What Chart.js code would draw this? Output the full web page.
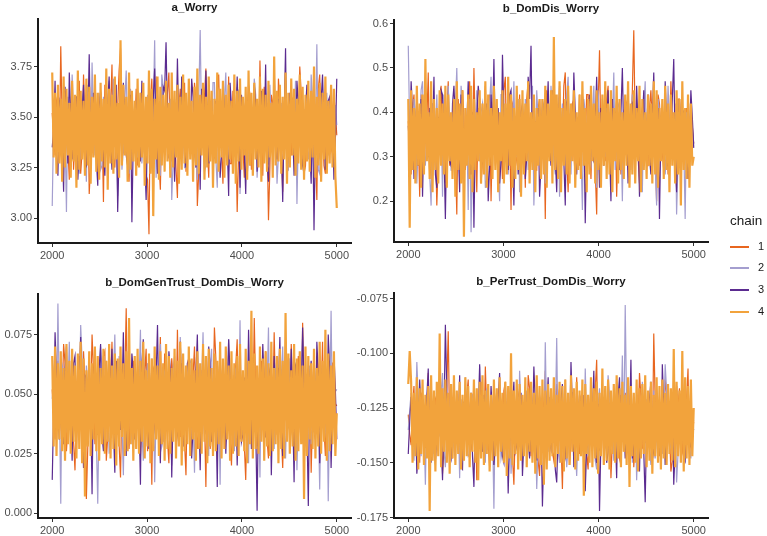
<!DOCTYPE html>
<html>
<head>
<meta charset="utf-8">
<script src="https://cdn.jsdelivr.net/npm/chart.js@4.4.0/dist/chart.umd.min.js"></script>
<style>
  body { margin: 0; background: #fff; font-family: "Liberation Sans", Arial, sans-serif; }
  #wrap { position: relative; width: 767px; height: 536px; overflow: hidden; }
  .panel { position: absolute; }
  .ptitle { position: absolute; font-weight: bold; font-size: 11.5px; color: #1a1a1a; white-space: nowrap; transform: translateX(-50%); }
  .ltitle { position: absolute; left: 730px; top: 213px; font-size: 13.5px; color: #1a1a1a; }
  .lkey { position: absolute; left: 730px; width: 19px; height: 2px; }
  .llab { position: absolute; left: 758px; font-size: 11px; color: #1a1a1a; }
</style>
</head>
<body>
<div id="wrap"></div>
<script>
// stored draws after warmup, one every 15 iterations (2000 ... 5000).
// chains 1-3: "xxx" arrays hold 2000, 2030, ... and "xxxMid" the draws in between.
// chain 4 (drawn on top) is kept as one full array.
const iterStart = 2000;
const iterStep = 15;
const iterTicks = [2000, 3000, 4000, 5000];

const chainNames = ['1', '2', '3', '4'];
const chainColors = ['#e8661f', '#a49ecf', '#5b2b90', '#f2a33c'];
// chain 4 sits on top and has to fill the band like the dense original
const chainWidths = [1.2, 1.2, 1.2, 2.2];

// a_Worry
const worryTicks = [3.00, 3.25, 3.50, 3.75];
const worry1 = [3.52,3.31,3.61,3.85,3.27,3.48,3.19,3.66,3.40,3.57, 3.22,3.71,3.36,3.12,3.58,3.44,3.29,3.63,3.08,3.50,
  3.39,3.76,3.25,3.55,3.84,3.33,3.47,3.18,3.62,3.41, 3.26,3.37,3.58,3.21,2.92,3.69,3.45,3.60,3.14,3.53,
  3.35,3.72,3.28,3.49,3.10,3.64,3.43,3.23,3.57,3.32, 3.67,3.06,3.46,3.38,3.74,3.20,3.51,3.30,3.62,3.42,
  3.17,3.55,3.70,3.27,3.48,3.03,3.59,3.36,3.44,3.66, 3.24,3.52,3.34,3.78,3.21,3.47,2.99,3.61,3.39,3.28,
  3.56,3.13,3.68,3.43,3.31,3.58,3.19,3.75,3.40,3.26, 3.63,3.35,3.50,3.09,3.71,3.45,3.22,3.57,3.33,3.60, 3.41];
const worry1Mid = [3.40,3.58,3.29,3.47,3.63,3.35,3.52,3.24,3.45,3.68, 3.33,3.50,3.61,3.27,3.42,3.56,3.21,3.48,3.66,3.38,
  3.54,3.30,3.44,3.73,3.36,3.59,3.26,3.49,3.41,3.64, 3.32,3.53,3.46,3.19,3.57,3.39,3.70,3.28,3.51,3.43,
  3.62,3.34,3.47,3.25,3.55,3.37,3.67,3.31,3.50,3.42, 3.58,3.23,3.45,3.60,3.36,3.52,3.29,3.48,3.71,3.35,
  3.54,3.40,3.27,3.63,3.44,3.33,3.56,3.20,3.49,3.61, 3.38,3.53,3.30,3.46,3.65,3.41,3.25,3.57,3.43,3.69,
  3.34,3.51,3.28,3.47,3.59,3.36,3.44,3.62,3.22,3.50, 3.39,3.55,3.31,3.64,3.42,3.26,3.58,3.45,3.35,3.53];
const worry2 = [3.06,3.58,3.34,3.49,3.66,3.03,3.42,3.71,3.29,3.54, 3.37,3.63,3.18,3.47,3.77,3.31,3.55,3.24,3.60,3.40,
  3.68,3.27,3.45,3.11,3.57,3.35,3.73,3.22,3.50,3.43, 3.30,3.62,3.39,3.16,3.54,3.28,3.88,3.46,3.21,3.65,
  3.36,3.52,3.09,3.59,3.44,3.32,3.70,3.25,3.48,3.38, 3.61,3.19,3.93,3.41,3.26,3.56,3.34,3.67,3.15,3.49,
  3.43,3.72,3.23,3.53,3.36,3.64,3.12,3.47,3.58,3.30, 3.40,3.69,3.20,3.55,3.33,3.62,3.27,3.45,3.74,3.17,
  3.51,3.38,3.66,3.24,3.57,3.42,3.07,3.60,3.35,3.48, 3.29,3.71,3.39,3.86,3.22,3.54,3.44,3.31,3.63,3.37, 3.46];
const worry2Mid = [3.47,3.36,3.55,3.28,3.43,3.60,3.32,3.51,3.44,3.22, 3.57,3.39,3.66,3.30,3.49,3.41,3.62,3.26,3.53,3.35,
  3.45,3.69,3.33,3.50,3.24,3.58,3.40,3.64,3.31,3.48, 3.55,3.27,3.42,3.61,3.37,3.52,3.20,3.46,3.71,3.34,
  3.43,3.59,3.29,3.50,3.38,3.65,3.25,3.54,3.41,3.47, 3.32,3.60,3.44,3.23,3.56,3.39,3.67,3.30,3.49,3.42,
  3.58,3.35,3.51,3.27,3.45,3.63,3.37,3.53,3.21,3.48, 3.40,3.61,3.33,3.55,3.44,3.28,3.66,3.38,3.50,3.31,
  3.57,3.43,3.25,3.52,3.36,3.68,3.41,3.29,3.54,3.46, 3.34,3.59,3.42,3.24,3.51,3.37,3.62,3.47,3.30,3.56];
const worry3 = [3.35,3.68,3.21,3.55,3.13,3.47,3.72,3.29,3.60,3.19, 3.43,3.66,3.26,3.81,3.38,3.52,3.16,3.62,3.33,3.49,
  3.70,3.24,3.57,3.03,3.45,3.67,3.31,3.54,2.98,3.41, 3.63,3.28,3.50,3.09,3.58,3.36,3.74,3.22,3.46,3.65,
  3.87,3.30,3.53,3.18,3.79,3.40,3.61,3.25,3.48,3.69, 3.34,3.56,3.14,3.44,3.73,3.27,3.59,3.37,3.51,3.20,
  3.64,3.42,3.11,3.55,3.32,3.70,3.15,3.47,3.12,3.60, 3.39,3.66,3.23,3.52,3.35,3.76,3.18,3.49,3.62,3.29,
  3.45,3.08,3.84,3.33,3.57,3.21,3.68,3.40,3.26,3.53, 3.61,3.17,2.94,3.48,3.36,3.71,3.24,3.58,3.43,3.19, 3.69];
const worry3Mid = [3.44,3.31,3.58,3.38,3.65,3.27,3.50,3.42,3.60,3.34, 3.53,3.24,3.47,3.36,3.62,3.29,3.55,3.41,3.21,3.57,
  3.38,3.49,3.66,3.32,3.52,3.44,3.26,3.61,3.40,3.54, 3.35,3.68,3.30,3.46,3.23,3.59,3.43,3.51,3.33,3.63,
  3.48,3.28,3.56,3.39,3.45,3.70,3.31,3.53,3.37,3.60, 3.25,3.47,3.64,3.35,3.50,3.41,3.22,3.58,3.44,3.32,
  3.55,3.38,3.67,3.29,3.49,3.42,3.61,3.34,3.52,3.26, 3.46,3.57,3.36,3.63,3.40,3.28,3.54,3.45,3.33,3.59,
  3.39,3.50,3.24,3.62,3.43,3.35,3.56,3.30,3.48,3.66, 3.37,3.53,3.41,3.27,3.58,3.44,3.32,3.60,3.46,3.38];
const worry4 = [3.72,3.30,3.62,3.22,3.66,3.27,3.59,3.18,3.70,3.25, 3.64,3.31,3.57,3.20,3.68,3.28,3.61,3.15,3.73,3.24,
  3.63,3.29,3.58,3.21,3.69,3.26,3.65,3.17,3.60,3.30, 3.71,3.23,3.62,3.19,3.67,3.28,3.59,3.25,3.74,3.14,
  3.64,3.27,3.61,3.22,3.70,3.29,3.57,3.20,3.88,3.26, 3.66,3.31,3.60,3.18,3.72,3.24,3.63,3.28,3.58,3.21,
  3.69,3.25,3.62,3.30,3.67,3.16,3.60,3.27,3.73,3.22, 3.64,3.01,3.59,3.29,3.70,3.19,3.65,3.26,3.61,3.23,
  3.68,3.28,3.57,3.20,3.72,3.25,3.63,3.30,3.66,3.17, 3.60,3.24,3.71,3.27,3.62,3.21,3.69,3.29,3.58,3.18,
  3.65,3.26,3.74,3.22,3.61,3.31,3.67,3.19,3.60,3.25, 3.70,3.28,3.63,3.15,3.59,3.27,3.72,3.23,3.64,3.30,
  3.68,3.20,3.61,3.26,3.66,3.29,3.58,3.22,3.71,3.17, 3.63,3.28,3.69,3.24,3.60,3.31,3.65,3.19,3.73,3.26,
  3.62,3.21,3.67,3.29,3.59,3.25,3.70,3.18,3.64,3.27, 3.61,3.23,3.68,3.30,3.57,3.20,3.80,3.26,3.63,3.28,
  3.66,3.22,3.60,3.29,3.72,3.17,3.62,3.25,3.69,3.31, 3.64,3.21,3.59,3.27,3.71,3.24,3.65,3.19,3.61,3.28,
  3.68,3.23,3.63,3.30,3.75,3.20,3.60,3.26,3.67,3.18, 3.62,3.29,3.70,3.22,3.58,3.27,3.66,3.25,3.64,3.21, 3.05];

// b_DomDis_Worry
const domDisTicks = [0.2, 0.3, 0.4, 0.5, 0.6];
const domDis1 = [0.38,0.26,0.44,0.31,0.21,0.41,0.35,0.49,0.28,0.37, 0.19,0.43,0.33,0.24,0.47,0.30,0.39,0.17,0.36,0.45,
  0.27,0.40,0.32,0.50,0.22,0.38,0.29,0.46,0.34,0.20, 0.42,0.31,0.37,0.25,0.48,0.33,0.18,0.41,0.29,0.44,
  0.36,0.23,0.47,0.32,0.39,0.27,0.43,0.35,0.16,0.40, 0.30,0.45,0.26,0.38,0.34,0.49,0.22,0.41,0.31,0.37,
  0.28,0.44,0.33,0.44,0.25,0.39,0.17,0.54,0.35,0.29, 0.46,0.32,0.40,0.21,0.37,0.30,0.43,0.27,0.36,0.585,
  0.33,0.24,0.41,0.38,0.28,0.45,0.34,0.20,0.42,0.31, 0.39,0.26,0.47,0.35,0.23,0.43,0.30,0.37,0.25,0.40, 0.33];
const domDis1Mid = [0.33,0.41,0.27,0.36,0.44,0.30,0.38,0.25,0.42,0.34, 0.29,0.46,0.35,0.40,0.28,0.37,0.31,0.43,0.26,0.39,
  0.34,0.47,0.30,0.36,0.41,0.24,0.38,0.32,0.44,0.35, 0.28,0.40,0.33,0.45,0.29,0.37,0.42,0.31,0.35,0.26,
  0.39,0.43,0.30,0.36,0.27,0.41,0.34,0.38,0.45,0.32, 0.37,0.28,0.40,0.33,0.46,0.30,0.35,0.42,0.25,0.39,
  0.36,0.31,0.44,0.34,0.38,0.27,0.41,0.32,0.37,0.43, 0.29,0.35,0.40,0.33,0.26,0.38,0.42,0.31,0.45,0.36,
  0.30,0.39,0.34,0.28,0.41,0.37,0.32,0.44,0.35,0.27, 0.40,0.33,0.38,0.30,0.43,0.36,0.29,0.41,0.34,0.37];
const domDis2 = [0.55,0.30,0.43,0.24,0.37,0.47,0.28,0.40,0.19,0.35, 0.44,0.32,0.21,0.39,0.46,0.27,0.36,0.50,0.25,0.41,
  0.33,0.18,0.13,0.38,0.45,0.29,0.42,0.23,0.35,0.48, 0.31,0.37,0.20,0.44,0.34,0.26,0.40,0.47,0.30,0.22,
  0.38,0.43,0.27,0.36,0.19,0.45,0.32,0.41,0.24,0.39, 0.46,0.29,0.35,0.21,0.42,0.33,0.48,0.26,0.37,0.31,
  0.44,0.18,0.40,0.34,0.28,0.46,0.23,0.38,0.43,0.30, 0.36,0.25,0.49,0.33,0.41,0.20,0.39,0.45,0.27,0.35,
  0.42,0.31,0.22,0.47,0.37,0.29,0.44,0.19,0.40,0.34, 0.26,0.46,0.32,0.38,0.17,0.43,0.29,0.16,0.36,0.41, 0.33];
const domDis2Mid = [0.36,0.29,0.40,0.33,0.45,0.31,0.38,0.26,0.42,0.35, 0.30,0.39,0.44,0.32,0.37,0.27,0.41,0.34,0.46,0.30,
  0.38,0.43,0.29,0.35,0.31,0.40,0.36,0.25,0.42,0.33, 0.39,0.28,0.44,0.35,0.41,0.32,0.37,0.30,0.43,0.36,
  0.27,0.40,0.34,0.46,0.31,0.38,0.29,0.42,0.35,0.33, 0.39,0.26,0.41,0.37,0.30,0.44,0.34,0.40,0.28,0.36,
  0.31,0.43,0.35,0.29,0.39,0.33,0.45,0.30,0.37,0.41, 0.32,0.38,0.27,0.42,0.35,0.40,0.31,0.36,0.44,0.29,
  0.37,0.34,0.41,0.30,0.39,0.33,0.28,0.43,0.36,0.40, 0.31,0.38,0.35,0.42,0.29,0.37,0.33,0.40,0.30,0.36];
const domDis3 = [0.37,0.47,0.25,0.42,0.33,0.21,0.45,0.30,0.39,0.48, 0.23,0.36,0.44,0.16,0.40,0.28,0.46,0.34,0.22,0.41,
  0.31,0.47,0.26,0.14,0.38,0.43,0.29,0.35,0.20,0.44, 0.52,0.32,0.24,0.53,0.37,0.27,0.45,0.19,0.39,0.33,
  0.42,0.25,0.48,0.55,0.30,0.36,0.21,0.43,0.34,0.47, 0.28,0.40,0.22,0.46,0.35,0.19,0.41,0.31,0.49,0.26,
  0.38,0.44,0.15,0.36,0.42,0.29,0.48,0.23,0.39,0.33, 0.45,0.20,0.37,0.43,0.27,0.50,0.32,0.24,0.41,0.35,
  0.46,0.21,0.38,0.30,0.44,0.26,0.49,0.34,0.16,0.40, 0.47,0.28,0.36,0.52,0.22,0.43,0.31,0.39,0.25,0.45, 0.32];
const domDis3Mid = [0.31,0.40,0.35,0.28,0.43,0.37,0.30,0.41,0.34,0.26, 0.39,0.45,0.32,0.36,0.29,0.42,0.38,0.33,0.44,0.27,
  0.37,0.31,0.40,0.35,0.46,0.30,0.38,0.42,0.28,0.36, 0.34,0.41,0.29,0.39,0.33,0.44,0.31,0.37,0.26,0.40,
  0.35,0.30,0.43,0.32,0.38,0.41,0.28,0.36,0.39,0.33, 0.45,0.30,0.37,0.34,0.29,0.42,0.36,0.31,0.40,0.35,
  0.27,0.39,0.33,0.44,0.30,0.38,0.35,0.41,0.28,0.37, 0.32,0.43,0.36,0.29,0.40,0.34,0.38,0.31,0.42,0.26,
  0.37,0.33,0.45,0.35,0.30,0.39,0.32,0.41,0.36,0.28, 0.38,0.34,0.43,0.31,0.37,0.29,0.40,0.35,0.33,0.39];
const domDis4 = [0.43,0.14,0.45,0.27,0.41,0.24,0.46,0.28,0.42,0.23, 0.44,0.26,0.52,0.29,0.40,0.25,0.47,0.22,0.43,0.27,
  0.41,0.24,0.45,0.28,0.42,0.26,0.46,0.23,0.44,0.29, 0.40,0.25,0.43,0.21,0.47,0.27,0.42,0.24,0.45,0.12,
  0.41,0.28,0.44,0.25,0.46,0.22,0.43,0.27,0.40,0.29, 0.45,0.24,0.42,0.26,0.47,0.23,0.44,0.28,0.41,0.25,
  0.46,0.27,0.43,0.22,0.40,0.29,0.45,0.24,0.42,0.26, 0.48,0.28,0.44,0.23,0.41,0.25,0.46,0.27,0.43,0.21,
  0.45,0.26,0.42,0.29,0.47,0.24,0.40,0.27,0.44,0.22, 0.41,0.28,0.43,0.25,0.43,0.26,0.46,0.23,0.42,0.29,
  0.45,0.24,0.57,0.27,0.44,0.25,0.47,0.22,0.41,0.28, 0.43,0.26,0.46,0.24,0.42,0.29,0.45,0.23,0.40,0.27,
  0.44,0.25,0.47,0.28,0.41,0.22,0.43,0.26,0.46,0.29, 0.42,0.24,0.45,0.27,0.40,0.23,0.44,0.28,0.47,0.25,
  0.42,0.26,0.45,0.22,0.41,0.29,0.46,0.24,0.43,0.27, 0.40,0.25,0.44,0.28,0.47,0.23,0.42,0.26,0.45,0.24,
  0.41,0.29,0.46,0.22,0.43,0.27,0.40,0.25,0.44,0.28, 0.42,0.24,0.47,0.26,0.45,0.23,0.41,0.29,0.43,0.25,
  0.46,0.27,0.42,0.22,0.44,0.28,0.40,0.24,0.45,0.26, 0.43,0.19,0.47,0.27,0.41,0.25,0.44,0.23,0.42,0.28, 0.30];

// b_DomGenTrust_DomDis_Worry
const genTrustTicks = [0.000, 0.025, 0.050, 0.075];
const genTrust1 = [0.052,0.031,0.064,0.040,0.071,0.026,0.057,0.044,0.018,0.061, 0.035,0.068,0.006,0.049,0.075,0.029,0.055,0.038,0.066,0.022,
  0.047,0.072,0.033,0.058,0.015,0.043,0.086,0.027,0.053,0.039, 0.062,0.024,0.050,0.069,0.036,0.012,0.059,0.045,0.074,0.030,
  0.054,0.021,0.065,0.041,0.077,0.032,0.048,0.016,0.060,0.037, 0.070,0.027,0.056,0.044,0.011,0.063,0.034,0.078,0.042,0.025,
  0.058,0.039,0.067,0.020,0.051,0.073,0.031,0.046,0.014,0.061, 0.036,0.082,0.028,0.054,0.043,0.068,0.023,0.049,0.076,0.033,
  0.057,0.019,0.064,0.040,0.071,0.026,0.052,0.038,0.080,0.030, 0.059,0.017,0.047,0.066,0.035,0.072,0.024,0.055,0.041,0.063, 0.045];
const genTrust1Mid = [0.041,0.058,0.034,0.049,0.063,0.037,0.052,0.030,0.045,0.066, 0.039,0.055,0.028,0.047,0.060,0.035,0.050,0.043,0.068,0.032,
  0.054,0.040,0.062,0.029,0.048,0.057,0.036,0.044,0.064,0.033, 0.051,0.038,0.059,0.026,0.046,0.061,0.035,0.053,0.042,0.067,
  0.031,0.049,0.056,0.037,0.044,0.063,0.030,0.052,0.039,0.058, 0.045,0.034,0.060,0.041,0.054,0.027,0.048,0.065,0.036,0.050,
  0.043,0.057,0.032,0.047,0.062,0.038,0.053,0.029,0.045,0.059, 0.040,0.051,0.035,0.064,0.046,0.031,0.055,0.042,0.049,0.061,
  0.033,0.047,0.058,0.037,0.052,0.044,0.066,0.030,0.050,0.039, 0.056,0.043,0.034,0.060,0.048,0.036,0.054,0.041,0.063,0.046];
const genTrust2 = [0.048,0.067,0.088,0.004,0.059,0.036,0.072,0.027,0.053,0.041, 0.079,0.030,0.062,0.045,0.019,0.056,0.004,0.070,0.038,0.064,
  0.025,0.050,0.075,0.033,0.058,0.016,0.046,0.068,0.029,0.061, 0.042,0.077,0.022,0.054,0.037,0.065,0.013,0.049,0.071,0.031,
  0.057,0.043,0.020,0.066,0.035,0.074,0.028,0.052,0.040,0.063, 0.017,0.059,0.034,0.076,0.046,0.024,0.069,0.038,0.055,0.012,
  0.062,0.030,0.073,0.044,0.026,0.058,0.081,0.036,0.050,0.021, 0.067,0.039,0.054,0.015,0.061,0.032,0.078,0.045,0.027,0.064,
  0.041,0.070,0.023,0.053,0.037,0.060,0.018,0.048,0.074,0.033, 0.056,0.029,0.066,0.043,0.010,0.062,0.035,0.005,0.085,0.047, 0.052];
const genTrust2Mid = [0.055,0.038,0.047,0.062,0.033,0.051,0.044,0.059,0.029,0.048, 0.064,0.036,0.053,0.041,0.057,0.031,0.046,0.061,0.039,0.050,
  0.034,0.058,0.043,0.066,0.037,0.052,0.030,0.049,0.060,0.040, 0.054,0.035,0.047,0.063,0.032,0.056,0.042,0.050,0.028,0.059,
  0.045,0.038,0.061,0.033,0.053,0.046,0.057,0.036,0.064,0.041, 0.049,0.030,0.055,0.043,0.039,0.062,0.034,0.051,0.047,0.058,
  0.037,0.054,0.031,0.048,0.060,0.042,0.035,0.056,0.045,0.063, 0.033,0.050,0.044,0.059,0.038,0.053,0.029,0.047,0.061,0.040,
  0.057,0.036,0.049,0.065,0.032,0.052,0.043,0.058,0.039,0.046, 0.062,0.035,0.054,0.041,0.048,0.031,0.057,0.044,0.038,0.051];
const genTrust3 = [0.014,0.076,0.042,0.063,0.029,0.070,0.051,0.022,0.066,0.037, 0.074,0.019,0.057,0.045,0.008,0.064,0.033,0.071,0.026,0.053,
  0.040,0.069,0.017,0.060,0.035,0.076,0.024,0.049,0.067,0.031, 0.058,0.012,0.073,0.044,0.027,0.062,0.038,0.079,0.021,0.055,
  0.046,0.068,0.015,0.059,0.034,0.072,0.028,0.052,0.065,0.023, 0.041,0.075,0.018,0.061,0.036,0.070,0.030,0.056,0.011,0.066,
  0.043,0.025,0.073,0.039,0.058,0.020,0.068,0.033,0.050,0.077, 0.027,0.062,0.001,0.047,0.071,0.032,0.057,0.016,0.066,0.040,
  0.074,0.024,0.053,0.037,0.069,0.013,0.060,0.044,0.078,0.029, 0.003,0.064,0.035,0.072,0.021,0.056,0.042,0.075,0.019,0.067, 0.031];
const genTrust3Mid = [0.043,0.056,0.031,0.049,0.060,0.037,0.045,0.063,0.034,0.052, 0.040,0.058,0.029,0.047,0.055,0.038,0.061,0.033,0.050,0.044,
  0.057,0.036,0.064,0.041,0.048,0.030,0.054,0.046,0.059,0.035, 0.042,0.062,0.037,0.051,0.045,0.032,0.057,0.040,0.053,0.048,
  0.034,0.060,0.043,0.055,0.029,0.050,0.039,0.063,0.046,0.036, 0.058,0.041,0.052,0.033,0.047,0.061,0.038,0.044,0.056,0.031,
  0.049,0.042,0.059,0.035,0.053,0.045,0.030,0.057,0.040,0.051, 0.064,0.037,0.048,0.043,0.055,0.032,0.060,0.046,0.039,0.054,
  0.041,0.058,0.034,0.050,0.044,0.062,0.036,0.047,0.053,0.038, 0.056,0.045,0.031,0.059,0.042,0.049,0.035,0.061,0.043,0.052];
const genTrust4 = [0.066,0.028,0.070,0.024,0.063,0.031,0.068,0.026,0.061,0.022, 0.071,0.029,0.064,0.025,0.069,0.030,0.062,0.023,0.067,0.027,
  0.072,0.021,0.065,0.007,0.060,0.028,0.068,0.024,0.063,0.031, 0.070,0.026,0.066,0.022,0.061,0.029,0.069,0.025,0.064,0.030,
  0.071,0.023,0.062,0.027,0.067,0.020,0.065,0.028,0.070,0.032, 0.063,0.024,0.068,0.026,0.082,0.029,0.061,0.022,0.066,0.027,
  0.069,0.025,0.064,0.030,0.072,0.023,0.060,0.028,0.067,0.021, 0.065,0.026,0.070,0.031,0.062,0.024,0.068,0.029,0.063,0.022,
  0.071,0.027,0.066,0.025,0.061,0.030,0.069,0.023,0.064,0.028, 0.072,0.020,0.067,0.026,0.062,0.029,0.070,0.024,0.065,0.031,
  0.060,0.022,0.068,0.027,0.063,0.025,0.071,0.030,0.066,0.021, 0.069,0.028,0.061,0.024,0.067,0.026,0.064,0.029,0.072,0.023,
  0.065,0.027,0.070,0.031,0.062,0.022,0.068,0.025,0.063,0.028, 0.066,0.024,0.071,0.030,0.060,0.026,0.069,0.021,0.064,0.029,
  0.085,0.023,0.067,0.027,0.062,0.025,0.070,0.030,0.065,0.022, 0.068,0.028,0.063,0.024,0.072,0.026,0.061,0.029,0.066,0.021,
  0.069,0.027,0.064,0.023,0.084,0.030,0.067,0.025,0.060,0.028, 0.071,0.022,0.065,0.026,0.068,0.029,0.062,0.006,0.070,0.024,
  0.066,0.031,0.063,0.027,0.069,0.023,0.061,0.028,0.072,0.025, 0.064,0.030,0.077,0.022,0.067,0.026,0.062,0.029,0.068,0.024, 0.042];

// b_PerTrust_DomDis_Worry
const perTrustTicks = [-0.175, -0.150, -0.125, -0.100, -0.075];
const perTrust1 = [-0.128,-0.142,-0.115,-0.136,-0.150,-0.122,-0.139,-0.109,-0.131,-0.146, -0.119,-0.134,-0.155,-0.125,-0.090,-0.140,-0.117,-0.132,-0.148,-0.123,
  -0.137,-0.112,-0.144,-0.129,-0.158,-0.120,-0.135,-0.106,-0.141,-0.126, -0.151,-0.118,-0.133,-0.145,-0.113,-0.138,-0.124,-0.160,-0.130,-0.116,
  -0.143,-0.127,-0.110,-0.147,-0.134,-0.121,-0.156,-0.131,-0.108,-0.139, -0.125,-0.149,-0.114,-0.136,-0.162,-0.128,-0.119,-0.142,-0.133,-0.111,
  -0.146,-0.124,-0.137,-0.153,-0.117,-0.130,-0.103,-0.144,-0.127,-0.140, -0.122,-0.157,-0.134,-0.113,-0.148,-0.129,-0.118,-0.141,-0.125,-0.152,
  -0.135,-0.109,-0.143,-0.121,-0.138,-0.115,-0.091,-0.131,-0.147,-0.126, -0.112,-0.139,-0.154,-0.123,-0.136,-0.116,-0.145,-0.128,-0.107,-0.140, -0.132];
const perTrust1Mid = [-0.137,-0.124,-0.145,-0.130,-0.118,-0.141,-0.127,-0.150,-0.133,-0.121, -0.139,-0.126,-0.144,-0.115,-0.135,-0.148,-0.129,-0.122,-0.142,-0.131,
  -0.119,-0.146,-0.134,-0.125,-0.140,-0.113,-0.137,-0.128,-0.152,-0.132, -0.123,-0.143,-0.130,-0.117,-0.138,-0.126,-0.147,-0.134,-0.120,-0.141,
  -0.129,-0.144,-0.116,-0.136,-0.125,-0.149,-0.131,-0.122,-0.139,-0.128, -0.145,-0.133,-0.118,-0.140,-0.127,-0.136,-0.151,-0.124,-0.142,-0.130,
  -0.121,-0.138,-0.146,-0.126,-0.134,-0.117,-0.143,-0.129,-0.148,-0.132, -0.123,-0.140,-0.128,-0.145,-0.119,-0.137,-0.131,-0.150,-0.125,-0.141,
  -0.133,-0.120,-0.144,-0.129,-0.136,-0.147,-0.122,-0.139,-0.127,-0.143, -0.118,-0.135,-0.149,-0.130,-0.124,-0.142,-0.133,-0.121,-0.146,-0.128];
const perTrust2 = [-0.135,-0.118,-0.149,-0.104,-0.140,-0.127,-0.160,-0.113,-0.133,-0.146, -0.121,-0.138,-0.109,-0.152,-0.130,-0.116,-0.143,-0.125,-0.157,-0.134,
  -0.111,-0.147,-0.128,-0.120,-0.141,-0.106,-0.136,-0.150,-0.123,-0.139, -0.171,-0.117,-0.132,-0.144,-0.114,-0.129,-0.155,-0.122,-0.137,-0.108,
  -0.148,-0.126,-0.140,-0.115,-0.131,-0.162,-0.119,-0.135,-0.095,-0.145, -0.124,-0.139,-0.093,-0.150,-0.128,-0.112,-0.143,-0.133,-0.118,-0.156,
  -0.126,-0.138,-0.107,-0.147,-0.130,-0.121,-0.153,-0.116,-0.136,-0.142, -0.110,-0.132,-0.149,-0.124,-0.139,-0.101,-0.078,-0.145,-0.119,-0.134,
  -0.158,-0.127,-0.113,-0.141,-0.130,-0.151,-0.117,-0.137,-0.125,-0.146, -0.105,-0.133,-0.143,-0.120,-0.159,-0.129,-0.114,-0.140,-0.126,-0.148, -0.131];
const perTrust2Mid = [-0.126,-0.143,-0.131,-0.120,-0.147,-0.135,-0.123,-0.140,-0.129,-0.151, -0.132,-0.118,-0.144,-0.136,-0.125,-0.139,-0.149,-0.127,-0.121,-0.141,
  -0.134,-0.146,-0.119,-0.137,-0.128,-0.143,-0.131,-0.116,-0.145,-0.133, -0.124,-0.140,-0.148,-0.127,-0.136,-0.122,-0.142,-0.130,-0.150,-0.125,
  -0.138,-0.117,-0.144,-0.132,-0.129,-0.141,-0.123,-0.147,-0.134,-0.120, -0.139,-0.131,-0.145,-0.126,-0.137,-0.152,-0.128,-0.118,-0.143,-0.135,
  -0.122,-0.146,-0.133,-0.127,-0.140,-0.149,-0.124,-0.138,-0.130,-0.144, -0.119,-0.136,-0.128,-0.147,-0.132,-0.141,-0.125,-0.139,-0.150,-0.123,
  -0.137,-0.145,-0.129,-0.121,-0.143,-0.134,-0.148,-0.126,-0.140,-0.131, -0.117,-0.142,-0.135,-0.127,-0.146,-0.124,-0.138,-0.132,-0.144,-0.129];
const perTrust3 = [-0.146,-0.120,-0.137,-0.155,-0.112,-0.131,-0.143,-0.107,-0.150,-0.126, -0.139,-0.116,-0.158,-0.087,-0.133,-0.148,-0.122,-0.136,-0.110,-0.153,
  -0.128,-0.141,-0.118,-0.161,-0.134,-0.105,-0.145,-0.124,-0.138,-0.115, -0.151,-0.130,-0.109,-0.147,-0.121,-0.164,-0.135,-0.113,-0.142,-0.127,
  -0.156,-0.117,-0.140,-0.129,-0.106,-0.149,-0.123,-0.170,-0.132,-0.111, -0.144,-0.125,-0.159,-0.136,-0.114,-0.147,-0.128,-0.104,-0.152,-0.133,
  -0.119,-0.141,-0.163,-0.126,-0.137,-0.108,-0.150,-0.172,-0.131,-0.116, -0.145,-0.122,-0.139,-0.157,-0.111,-0.134,-0.148,-0.125,-0.103,-0.142,
  -0.129,-0.154,-0.118,-0.168,-0.136,-0.113,-0.146,-0.127,-0.140,-0.105, -0.151,-0.123,-0.137,-0.160,-0.115,-0.132,-0.108,-0.149,-0.126,-0.143, -0.135];
const perTrust3Mid = [-0.131,-0.140,-0.125,-0.146,-0.128,-0.137,-0.120,-0.143,-0.133,-0.149, -0.124,-0.138,-0.130,-0.117,-0.145,-0.127,-0.141,-0.134,-0.152,-0.122,
  -0.136,-0.129,-0.147,-0.126,-0.139,-0.132,-0.119,-0.144,-0.135,-0.128, -0.142,-0.121,-0.137,-0.150,-0.130,-0.139,-0.124,-0.145,-0.133,-0.118,
  -0.140,-0.127,-0.148,-0.134,-0.123,-0.138,-0.131,-0.144,-0.126,-0.141, -0.129,-0.153,-0.136,-0.122,-0.143,-0.132,-0.140,-0.125,-0.147,-0.130,
  -0.137,-0.119,-0.142,-0.134,-0.128,-0.146,-0.123,-0.139,-0.131,-0.150, -0.126,-0.141,-0.135,-0.120,-0.144,-0.129,-0.138,-0.132,-0.148,-0.124,
  -0.140,-0.127,-0.145,-0.133,-0.121,-0.142,-0.136,-0.130,-0.149,-0.125, -0.139,-0.131,-0.118,-0.144,-0.134,-0.128,-0.147,-0.122,-0.137,-0.133];
const perTrust4 = [-0.114,-0.099,-0.113,-0.150,-0.118,-0.147,-0.111,-0.153,-0.116,-0.146, -0.112,-0.151,-0.119,-0.148,-0.115,-0.172,-0.110,-0.149,-0.117,-0.154,
  -0.113,-0.147,-0.091,-0.152,-0.116,-0.145,-0.112,-0.150,-0.118,-0.155, -0.114,-0.148,-0.110,-0.151,-0.117,-0.146,-0.113,-0.153,-0.119,-0.149,
  -0.111,-0.147,-0.115,-0.152,-0.118,-0.145,-0.112,-0.150,-0.116,-0.158, -0.113,-0.148,-0.110,-0.151,-0.117,-0.146,-0.114,-0.154,-0.119,-0.149,
  -0.112,-0.147,-0.116,-0.152,-0.111,-0.145,-0.118,-0.150,-0.113,-0.156, -0.115,-0.148,-0.100,-0.151,-0.117,-0.146,-0.112,-0.153,-0.114,-0.149,
  -0.119,-0.147,-0.111,-0.152,-0.116,-0.145,-0.113,-0.150,-0.118,-0.155, -0.110,-0.148,-0.115,-0.151,-0.112,-0.160,-0.117,-0.153,-0.114,-0.149,
  -0.116,-0.147,-0.111,-0.152,-0.119,-0.146,-0.113,-0.150,-0.115,-0.154, -0.112,-0.148,-0.118,-0.151,-0.110,-0.145,-0.116,-0.153,-0.113,-0.149,
  -0.117,-0.147,-0.112,-0.165,-0.114,-0.146,-0.119,-0.150,-0.111,-0.152, -0.116,-0.148,-0.113,-0.155,-0.118,-0.147,-0.107,-0.151,-0.115,-0.149,
  -0.112,-0.153,-0.117,-0.146,-0.114,-0.150,-0.110,-0.148,-0.116,-0.152, -0.113,-0.145,-0.119,-0.151,-0.111,-0.161,-0.115,-0.147,-0.118,-0.150,
  -0.112,-0.154,-0.116,-0.148,-0.114,-0.146,-0.110,-0.152,-0.117,-0.149, -0.113,-0.155,-0.119,-0.147,-0.111,-0.150,-0.115,-0.153,-0.112,-0.148,
  -0.118,-0.151,-0.114,-0.146,-0.116,-0.149,-0.098,-0.152,-0.113,-0.147, -0.117,-0.150,-0.099,-0.154,-0.111,-0.148,-0.115,-0.151,-0.112,-0.147, -0.125];

const fontFamily = '"Liberation Sans", Arial, sans-serif';
const wrap = document.getElementById('wrap');

// put the in-between draws back in iteration order
function merge(main, mid) {
    const out = [];
    main.forEach((v, i) => {
        out.push(v);
        if (i < mid.length) out.push(mid[i]);
    });
    return out;
}

// area = where the plot panel sits on the page (px)
function drawPanel(title, area, yMin, yMax, yTicks, decimals, series) {
    const yW = area.l < 200 ? 38 : 44;
    const xH = 24, padTop = 8, padRight = 14;

    const canvas = document.createElement('canvas');
    canvas.className = 'panel';
    canvas.width = (area.r - area.l) + yW + padRight;
    canvas.height = (area.b - area.t) + padTop + xH;
    canvas.style.left = (area.l - yW) + 'px';
    canvas.style.top = (area.t - padTop) + 'px';
    wrap.appendChild(canvas);

    const t = document.createElement('div');
    t.className = 'ptitle';
    t.textContent = title;
    t.style.left = ((area.l + area.r) / 2) + 'px';
    t.style.top = (area.t - 17) + 'px';
    wrap.appendChild(t);

    new Chart(canvas.getContext('2d'), {
        type: 'line',
        data: {
            datasets: series.map((vals, c) => ({
                label: chainNames[c],
                data: vals.map((v, i) => ({ x: iterStart + i * iterStep, y: v })),
                borderColor: chainColors[c],
                borderWidth: chainWidths[c],
                borderJoinStyle: 'miter',
                pointRadius: 0,
                tension: 0,
                fill: false,
                order: 3 - c
            }))
        },
        options: {
            responsive: false,
            animation: false,
            events: [],
            layout: { padding: { top: padTop, right: padRight, left: 0, bottom: 0 } },
            plugins: { legend: { display: false }, tooltip: { enabled: false } },
            scales: {
                x: {
                    type: 'linear',
                    min: 1850,
                    max: 5150,
                    afterBuildTicks: s => { s.ticks = iterTicks.map(v => ({ value: v })); },
                    afterFit: s => { s.height = xH; },
                    ticks: { callback: v => String(v), color: '#4d4d4d', font: { size: 11, family: fontFamily }, padding: 2, maxRotation: 0 },
                    grid: { drawOnChartArea: false, tickLength: 4, color: '#333', lineWidth: 1 },
                    border: { color: '#1a1a1a', width: 2 }
                },
                y: {
                    min: yMin,
                    max: yMax,
                    afterBuildTicks: s => { s.ticks = yTicks.map(v => ({ value: v })); },
                    afterFit: s => { s.width = yW; },
                    ticks: { callback: v => v.toFixed(decimals), color: '#4d4d4d', font: { size: 11, family: fontFamily }, padding: 2 },
                    grid: { drawOnChartArea: false, tickLength: 4, color: '#333', lineWidth: 1 },
                    border: { color: '#1a1a1a', width: 2 }
                }
            }
        }
    });
}

drawPanel('a_Worry', { l: 38, t: 18, r: 351, b: 243 }, 2.877, 3.987, worryTicks, 2,
    [merge(worry1, worry1Mid), merge(worry2, worry2Mid), merge(worry3, worry3Mid), worry4]);
drawPanel('b_DomDis_Worry', { l: 394, t: 19, r: 708, b: 242 }, 0.108, 0.609, domDisTicks, 1,
    [merge(domDis1, domDis1Mid), merge(domDis2, domDis2Mid), merge(domDis3, domDis3Mid), domDis4]);
drawPanel('b_DomGenTrust_DomDis_Worry', { l: 38, t: 293, r: 351, b: 518 }, -0.002, 0.0922, genTrustTicks, 3,
    [merge(genTrust1, genTrust1Mid), merge(genTrust2, genTrust2Mid), merge(genTrust3, genTrust3Mid), genTrust4]);
drawPanel('b_PerTrust_DomDis_Worry', { l: 394, t: 292, r: 708, b: 518 }, -0.1752, -0.0723, perTrustTicks, 3,
    [merge(perTrust1, perTrust1Mid), merge(perTrust2, perTrust2Mid), merge(perTrust3, perTrust3Mid), perTrust4]);

// legend
const lt = document.createElement('div');
lt.className = 'ltitle';
lt.textContent = 'chain';
wrap.appendChild(lt);
const keyY = [247, 268, 290, 312];
chainNames.forEach((name, c) => {
    const k = document.createElement('div');
    k.className = 'lkey';
    k.style.top = (keyY[c] - 1) + 'px';
    k.style.background = chainColors[c];
    wrap.appendChild(k);
    const l = document.createElement('div');
    l.className = 'llab';
    l.textContent = name;
    l.style.top = (keyY[c] - 7) + 'px';
    wrap.appendChild(l);
});
</script>
</body>
</html>
